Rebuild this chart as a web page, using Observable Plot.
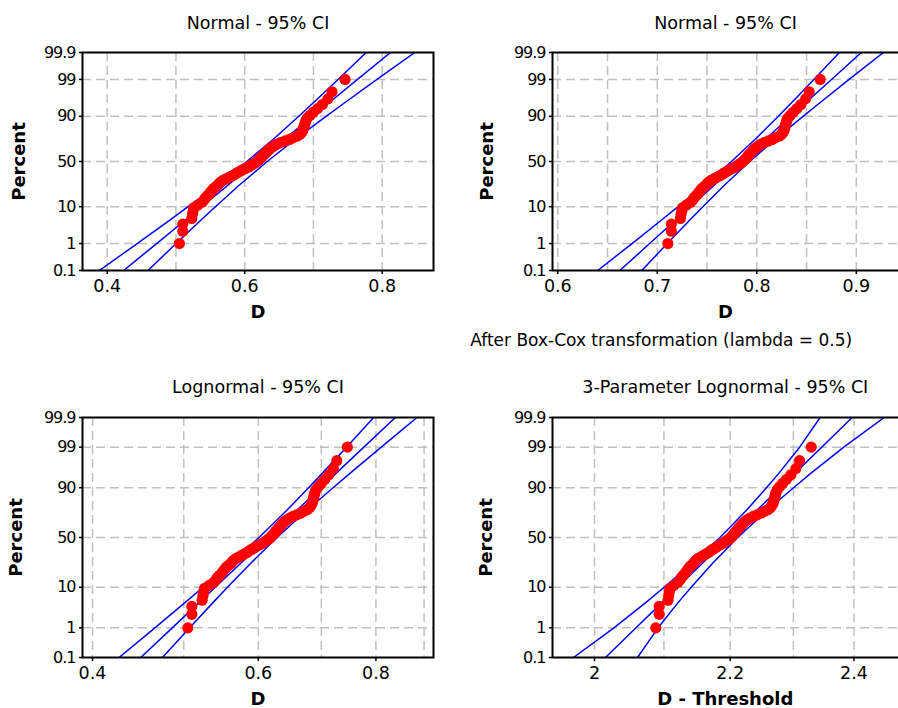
<!DOCTYPE html>
<html>
<head>
<meta charset="utf-8">
<script src="https://cdn.jsdelivr.net/npm/d3@7"></script>
<script src="https://cdn.jsdelivr.net/npm/@observablehq/plot@0.6"></script>
<style>
  html, body { margin: 0; padding: 0; background: #fff; overflow: hidden; }
  #wrap { position: relative; width: 898px; height: 708px; overflow: hidden; background: #fff; }
  .panel { position: absolute; }
  .panel svg { max-width: none !important; }
  g[aria-label="y-axis tick label"] text { letter-spacing: -1px; }
</style>
</head>
<body>
<div id="wrap"></div>
<script>
// ---- Data ----
// Plotting positions (percent) of the 70 sorted observations
const percent = [1.0,2.4,3.8,5.3,6.7,8.1,9.5,10.9,12.4,13.8,15.2,16.6,18.0,19.5,20.9,22.3,23.7,25.1,26.6,28.0,
  29.4,30.8,32.2,33.7,35.1,36.5,37.9,39.3,40.8,42.2,43.6,45.0,46.4,47.9,49.3,50.7,52.1,53.6,55.0,56.4,
  57.8,59.2,60.7,62.1,63.5,64.9,66.3,67.8,69.2,70.6,72.0,73.4,74.9,76.3,77.7,79.1,80.5,82.0,83.4,84.8,
  86.2,87.6,89.1,90.5,91.9,93.3,94.7,96.2,97.6,99.0];
// Sorted D observations
const D = [0.505,0.510,0.510,0.523,0.524,0.525,0.526,0.532,0.538,0.541,
  0.543,0.546,0.549,0.551,0.553,0.555,0.558,0.561,0.563,0.565,
  0.568,0.572,0.576,0.580,0.584,0.587,0.590,0.594,0.597,0.601,
  0.605,0.608,0.611,0.614,0.617,0.619,0.621,0.623,0.625,0.626,
  0.628,0.630,0.632,0.634,0.636,0.638,0.641,0.644,0.648,0.653,
  0.659,0.665,0.670,0.676,0.680,0.682,0.684,0.685,0.686,0.687,
  0.688,0.689,0.691,0.695,0.700,0.706,0.713,0.721,0.727,0.746];

const boxCoxLambda = 0.5;     // After Box-Cox transformation (lambda = 0.5)
const threshold = -1.583;     // 3-parameter lognormal threshold

// Percent levels at which fitted line and 95% CI bands were read
const linePct = [0.1, 1, 5, 10, 25, 50, 75, 90, 95, 99, 99.9];
// Panel 1: Normal
const fit1 = [0.4239,0.4719,0.5147,0.5375,0.5756,0.6180,0.6604,0.6985,0.7213,0.7641,0.8121];
const lo1  = [0.3886,0.4436,0.4921,0.5177,0.5593,0.6033,0.6441,0.6786,0.6987,0.7358,0.7767];
const hi1  = [0.4593,0.5002,0.5373,0.5574,0.5919,0.6327,0.6767,0.7183,0.7439,0.7924,0.8474];
// Panel 2: Normal after Box-Cox
const fit2 = [0.6623,0.6923,0.7191,0.7333,0.7572,0.7837,0.8102,0.8341,0.8483,0.8751,0.9051];
const lo2  = [0.6401,0.6746,0.7049,0.7209,0.7470,0.7745,0.8000,0.8217,0.8342,0.8574,0.8830];
const hi2  = [0.6844,0.7100,0.7332,0.7458,0.7674,0.7929,0.8204,0.8465,0.8625,0.8928,0.9273];
// Panel 3: Lognormal
const fit3 = [0.4501,0.4861,0.5206,0.5400,0.5741,0.6145,0.6577,0.6991,0.7252,0.7767,0.8389];
const lo3  = [0.4268,0.4659,0.5033,0.5242,0.5602,0.6011,0.6418,0.6786,0.7011,0.7444,0.7956];
const hi3  = [0.4746,0.5072,0.5386,0.5564,0.5883,0.6282,0.6740,0.7203,0.7502,0.8105,0.8846];
// Panel 4: 3-Parameter Lognormal
const fit4 = [2.0155,2.0592,2.0989,2.1204,2.1568,2.1980,2.2400,2.2785,2.3018,2.3462,2.3970];
const lo4  = [1.9707,2.0275,2.0755,2.1003,2.1413,2.1844,2.2239,2.2569,2.2762,2.3101,2.3437];
const hi4  = [2.0614,2.0913,2.1225,2.1406,2.1724,2.2117,2.2562,2.3002,2.3277,2.3829,2.4516];

// Axis ticks
const pctTicks = [0.1, 1, 10, 50, 90, 99, 99.9];
const pctLabels = ["0.1", "1", "10", "50", "90", "99", "99.9"];
const x1Ticks = [0.4, 0.6, 0.8], x1Labels = ["0.4", "0.6", "0.8"], x1Grid = [0.4, 0.5, 0.6, 0.7, 0.8];
const x2Ticks = [0.6, 0.7, 0.8, 0.9], x2Labels = ["0.6", "0.7", "0.8", "0.9"], x2Grid = [0.6, 0.65, 0.7, 0.75, 0.8, 0.85, 0.9, 0.95];
const x3Ticks = [0.4, 0.6, 0.8], x3Labels = ["0.4", "0.6", "0.8"], x3Grid = [0.4, 0.5, 0.6, 0.7, 0.8, 0.9];
const x4Ticks = [2, 2.2, 2.4], x4Labels = ["2", "2.2", "2.4"], x4Grid = [2, 2.1, 2.2, 2.3, 2.4];

// ---- Normal probability (probit) scale helper ----
function probit(p) {
  const a = [-3.969683028665376e+01, 2.209460984245205e+02, -2.759285104469687e+02, 1.383577518672690e+02, -3.066479806614716e+01, 2.506628277459239e+00];
  const b = [-5.447609879822406e+01, 1.615858368580409e+02, -1.556989798598866e+02, 6.680131188771972e+01, -1.328068155288572e+01];
  const c = [-7.784894002430293e-03, -3.223964580411365e-01, -2.400758277161838e+00, -2.549732539343734e+00, 4.374664141464968e+00, 2.938163982698783e+00];
  const d = [7.784695709041462e-03, 3.224671290700398e-01, 2.445134137142996e+00, 3.754408661907416e+00];
  const pl = 0.02425, ph = 1 - pl;
  let q, r;
  if (p < pl) {
    q = Math.sqrt(-2 * Math.log(p));
    return (((((c[0]*q+c[1])*q+c[2])*q+c[3])*q+c[4])*q+c[5]) / ((((d[0]*q+d[1])*q+d[2])*q+d[3])*q+1);
  }
  if (p > ph) {
    q = Math.sqrt(-2 * Math.log(1 - p));
    return -(((((c[0]*q+c[1])*q+c[2])*q+c[3])*q+c[4])*q+c[5]) / ((((d[0]*q+d[1])*q+d[2])*q+d[3])*q+1);
  }
  q = p - 0.5; r = q * q;
  return (((((a[0]*r+a[1])*r+a[2])*r+a[3])*r+a[4])*r+a[5])*q / (((((b[0]*r+b[1])*r+b[2])*r+b[3])*r+b[4])*r+1);
}
const zTicks = pctTicks.map(p => probit(p / 100));
const zLabel = z => pctLabels[zTicks.indexOf(z)];

const GRID = "#c0c0c0", BLUE = "#0000ff", RED = "#ff0000";

function panel(o) {
  const pts = o.xVals.map((x, i) => ({x, z: probit(percent[i] / 100)}));
  const ln = arr => arr.map((x, i) => ({x, z: probit(linePct[i] / 100)}));
  const left = o.titleDx != null;
  const chart = Plot.plot({
    width: o.width, height: o.height,
    marginLeft: o.mL, marginRight: o.mR, marginTop: o.mT, marginBottom: o.mB,
    style: {fontFamily: "DejaVu Sans", fontSize: "15px", background: "white", maxWidth: "none", color: "#000"},
    x: {type: o.xType, domain: o.xDomain},
    y: {domain: [zTicks[0], zTicks[zTicks.length - 1]]},
    marks: [
      Plot.ruleX(o.xGrid, {stroke: GRID, strokeWidth: 1.5, strokeDasharray: "9,5"}),
      Plot.ruleY(zTicks.slice(1, -1), {stroke: GRID, strokeWidth: 1.5, strokeDasharray: "9,5"}),
      Plot.line(ln(o.lo), {x: "x", y: "z", stroke: BLUE, strokeWidth: 1.5, clip: true}),
      Plot.line(ln(o.fit), {x: "x", y: "z", stroke: BLUE, strokeWidth: 1.5, clip: true}),
      Plot.line(ln(o.hi), {x: "x", y: "z", stroke: BLUE, strokeWidth: 1.5, clip: true}),
      Plot.dot(pts, {x: "x", y: "z", r: 5.6, fill: RED, stroke: "none"}),
      Plot.frame({stroke: "#000", strokeWidth: 2}),
      Plot.axisX({ticks: o.xTicks, tickFormat: v => o.xLabels[o.xTicks.indexOf(v)], tickSize: 4, tickPadding: 5,
        fontSize: 17.5, strokeWidth: 1.5, label: null}),
      Plot.axisY({ticks: zTicks, tickFormat: zLabel, tickSize: 3, tickPadding: 4,
        fontSize: 16, strokeWidth: 1.5, label: null}),
      Plot.text([o.title], {frameAnchor: left ? "top-left" : "top", dx: o.titleDx || 0, dy: o.titleDy,
        lineAnchor: "middle", fontSize: 17.5, textAnchor: "middle", fill: "#000", letterSpacing: "0.3px"}),
      Plot.text([o.xLabel], {frameAnchor: left ? "bottom-left" : "bottom", dx: o.titleDx || 0, dy: o.labelDy,
        lineAnchor: "middle", fontSize: 18, fontWeight: "bold", textAnchor: "middle", fill: "#000"}),
      Plot.text(["Percent"], {frameAnchor: "left", dx: o.pDx, rotate: -90, lineAnchor: "middle",
        fontSize: 18, fontWeight: "bold", textAnchor: "middle", fill: "#000"}),
      ...(o.sub ? [Plot.text([o.sub], {frameAnchor: "bottom-left", dx: o.subDx, dy: o.subDy,
        lineAnchor: "middle", fontSize: 17, textAnchor: "start", fill: "#000"})] : [])
    ]
  });
  const div = document.createElement("div");
  div.className = "panel";
  div.style.left = o.left + "px";
  div.style.top = o.top + "px";
  div.style.width = o.width + "px";
  div.style.height = o.height + "px";
  div.appendChild(chart);
  document.getElementById("wrap").appendChild(div);
}

const xBoxCox = D.map(v => Math.pow(v, boxCoxLambda));
const xThresh = D.map(v => v - threshold);

panel({left: 0, top: 0, width: 449, height: 330, mL: 82, mR: 16, mT: 52, mB: 60,
  xType: "linear", xDomain: [0.3641, 0.8746], xGrid: x1Grid, xTicks: x1Ticks, xLabels: x1Labels,
  xVals: D, fit: fit1, lo: lo1, hi: hi1,
  title: "Normal - 95% CI", titleDy: -29.5, xLabel: "D", labelDy: 41.7, pDx: -63.7});

panel({left: 449, top: 0, width: 470, height: 360, mL: 103, mR: 10, mT: 52, mB: 90,
  xType: "linear", xDomain: [0.59467, 0.95347], xGrid: x2Grid, xTicks: x2Ticks, xLabels: x2Labels,
  xVals: xBoxCox, fit: fit2, lo: lo2, hi: hi2,
  title: "Normal - 95% CI", titleDx: 173, titleDy: -29.5, xLabel: "D", labelDy: 42, pDx: -65,
  sub: "After Box-Cox transformation (lambda = 0.5)", subDx: -82.3, subDy: 70});

panel({left: 0, top: 360, width: 449, height: 348, mL: 82, mR: 16, mT: 57, mB: 51,
  xType: "log", xDomain: [0.3903, 0.921], xGrid: x3Grid, xTicks: x3Ticks, xLabels: x3Labels,
  xVals: D, fit: fit3, lo: lo3, hi: hi3,
  title: "Lognormal - 95% CI", titleDy: -30.3, xLabel: "D", labelDy: 41.6, pDx: -66.5});

panel({left: 449, top: 360, width: 470, height: 348, mL: 103, mR: 10, mT: 57, mB: 51,
  xType: "log", xDomain: [1.94183, 2.49554], xGrid: x4Grid, xTicks: x4Ticks, xLabels: x4Labels,
  xVals: xThresh, fit: fit4, lo: lo4, hi: hi4,
  title: "3-Parameter Lognormal - 95% CI", titleDx: 172.8, titleDy: -30.3, xLabel: "D - Threshold", labelDy: 41.6, pDx: -66.3});
</script>
</body>
</html>
